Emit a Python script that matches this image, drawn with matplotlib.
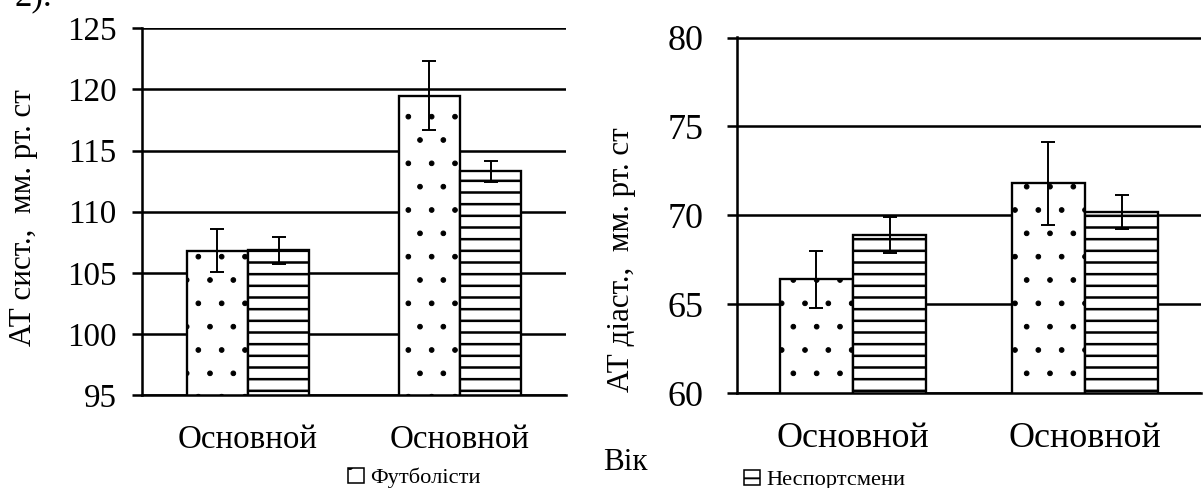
import matplotlib
matplotlib.use("Agg")
import numpy as np
import matplotlib.pyplot as plt
from matplotlib.patches import Patch

plt.rcParams['font.family'] = ['Liberation Serif', 'DejaVu Sans']

# Артеріальний тиск за групами
categories = ['Основной', 'Основной']
groups = ['Футболісти', 'Неспортсмени']

sys_football = [106.8, 119.5]
sys_football_err = [1.75, 2.8]
sys_nonsport = [106.85, 113.3]
sys_nonsport_err = [1.1, 0.85]

dia_football = [66.4, 71.8]
dia_football_err = [1.6, 2.35]
dia_nonsport = [68.9, 70.2]
dia_nonsport_err = [1.0, 0.95]

DPI = 140
W, H = 1203, 488


def draw_panel(ax, foot, foot_err, non, non_err, width, ylim, yticks,
               tick_size, label_size, pad):
    x = np.arange(len(categories))
    # крапки дрібніші, смуги товстіші
    with plt.rc_context({'hatch.linewidth': 0.5}):
        ax.bar(x - width / 2, foot, width, color='white', edgecolor='black',
               linewidth=1.2, hatch='.', zorder=2)
    with plt.rc_context({'hatch.linewidth': 1.3}):
        ax.bar(x + width / 2, non, width, color='white', edgecolor='black',
               linewidth=1.2, hatch='--', zorder=2)
    ax.errorbar(x - width / 2, foot, yerr=foot_err, fmt='none', ecolor='black',
                elinewidth=1.0, capsize=3.5, capthick=1.0, zorder=3)
    ax.errorbar(x + width / 2, non, yerr=non_err, fmt='none', ecolor='black',
                elinewidth=1.0, capsize=3.5, capthick=1.0, zorder=3)

    ax.set_xlim(-0.5, len(categories) - 0.5)
    ax.set_ylim(ylim[0], ylim[1] + 0.03)
    ax.set_yticks(yticks)
    ax.set_xticks(x, categories)

    ax.yaxis.grid(True, color='black', linewidth=1.3)
    ax.set_axisbelow(True)
    for side in ['top', 'right']:
        ax.spines[side].set_visible(False)
    for side in ['left', 'bottom']:
        ax.spines[side].set_linewidth(1.3)
    ax.tick_params(axis='y', length=5, width=1.3, pad=pad, labelsize=tick_size)
    ax.tick_params(axis='x', length=0, pad=15, labelsize=label_size)


fig = plt.figure(figsize=(W / DPI, H / DPI), dpi=DPI)

ax1 = fig.add_axes([142 / W, 1 - 395 / H, 424 / W, 367 / H])
draw_panel(ax1, sys_football, sys_football_err, sys_nonsport, sys_nonsport_err,
           0.29, (95, 125), np.arange(95, 126, 5), 17, 17, 8)

ax2 = fig.add_axes([737 / W, 1 - 393 / H, 464 / W, 356 / H])
draw_panel(ax2, dia_football, dia_football_err, dia_nonsport, dia_nonsport_err,
           0.315, (60, 80), np.arange(60, 81, 5), 18.5, 18.5, 12)

fig.text(23 / W, 1 - 218 / H, 'АТ сист.,  мм. рт. ст', rotation=90,
         ha='center', va='center', fontsize=16)
fig.text(621 / W, 1 - 260 / H, 'АТ діаст.,  мм. рт. ст', rotation=90,
         ha='center', va='center', fontsize=16)
fig.text(625 / W, 1 - 463 / H, 'Вік', ha='center', va='center', fontsize=16)

# обрізаний рядок тексту над рисунком
fig.text(15 / W, 1 - 5 / H, '2).', ha='left', va='baseline', fontsize=18)

with plt.rc_context({'hatch.linewidth': 0.5}):
    foot_handle = Patch(facecolor='white', edgecolor='black', hatch='.', linewidth=0.8)
with plt.rc_context({'hatch.linewidth': 1.0}):
    non_handle = Patch(facecolor='white', edgecolor='black', hatch='-', linewidth=0.8)

fig.legend(handles=[foot_handle], labels=[groups[0]], loc='center left',
           bbox_to_anchor=(348 / W, 1 - 478 / H), frameon=False, fontsize=11.5,
           handlelength=0.7, handleheight=0.7, handletextpad=0.3,
           borderpad=0, borderaxespad=0)
fig.legend(handles=[non_handle], labels=[groups[1]], loc='center left',
           bbox_to_anchor=(744 / W, 1 - 480 / H), frameon=False, fontsize=11.5,
           handlelength=0.7, handleheight=0.7, handletextpad=0.3,
           borderpad=0, borderaxespad=0)

fig.savefig('out.png', dpi=DPI)
